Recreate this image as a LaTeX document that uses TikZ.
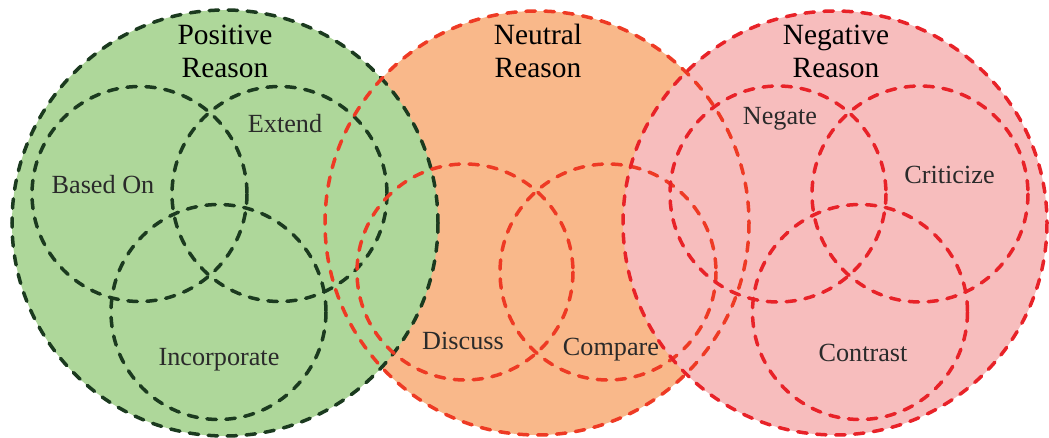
\documentclass[tikz,border=0pt]{standalone}
\usepackage{fontspec}
\setmainfont{Liberation Serif}
\definecolor{gfill}{HTML}{AED79A}
\definecolor{ofill}{HTML}{F9B88A}
\definecolor{pfill}{HTML}{F7BDBD}
\definecolor{gline}{HTML}{1B3A1F}
\definecolor{oline}{HTML}{EE3A24}
\definecolor{pline}{HTML}{E82228}
\definecolor{ltext}{HTML}{2A2A2A}
\tikzset{
  ring/.style={line width=3.5bp, line cap=round, dash pattern=on 9.5bp off 9.5bp},
  bigtitle/.style={font=\fontsize{29.5}{33}\selectfont, align=center, text=black, inner sep=0pt},
  smalllabel/.style={font=\fontsize{26.3}{30}\selectfont, text=ltext, inner sep=0pt, anchor=base},
}
\begin{document}
\begin{tikzpicture}[x=1bp,y=-1bp]
\useasboundingbox (0,0) rectangle (1049,438);
% fills
\fill[ofill] (537,223) circle[radius=212];
\fill[gfill] (225,223) circle[radius=213];
\fill[pfill] (835,223) circle[radius=212];
% green outlines
\draw[ring, gline] (225,223) circle[radius=213];
\draw[ring, gline] (139.5,194) circle[radius=107.5];
\draw[ring, gline] (279.5,194) circle[radius=107.5];
\draw[ring, gline] (218.5,312) circle[radius=107.5];
% neutral outlines
\draw[ring, oline] (537,223) circle[radius=212];
\draw[ring, oline] (465,272) circle[radius=108];
\draw[ring, oline] (608,272) circle[radius=108];
% negative outlines
\draw[ring, pline] (835,223) circle[radius=212];
\draw[ring, pline] (778,194) circle[radius=108];
\draw[ring, pline] (920,194) circle[radius=108];
\draw[ring, pline] (860,312) circle[radius=107.5];
% titles
\node[bigtitle, anchor=base] (pos1) at (225,45) {Positive};
\node[bigtitle, anchor=base] (pos2) at (225,78) {Reason};
\node[bigtitle, anchor=base] (neu1) at (538,45) {Neutral};
\node[bigtitle, anchor=base] (neu2) at (538,78) {Reason};
\node[bigtitle, anchor=base] (neg1) at (836,45) {Negative};
\node[bigtitle, anchor=base] (neg2) at (836,78) {Reason};
% labels
\node[smalllabel] (based) at (103,194) {Based On};
\node[smalllabel] (extend) at (285,133) {Extend};
\node[smalllabel] (incorp) at (219,366) {Incorporate};
\node[smalllabel] (discuss) at (463,350) {Discuss};
\node[smalllabel] (compare) at (611,356) {Compare};
\node[smalllabel] (negate) at (780,125) {Negate};
\node[smalllabel] (criticize) at (949.5,184) {Criticize};
\node[smalllabel] (contrast) at (863,362) {Contrast};
\end{tikzpicture}
\end{document}
